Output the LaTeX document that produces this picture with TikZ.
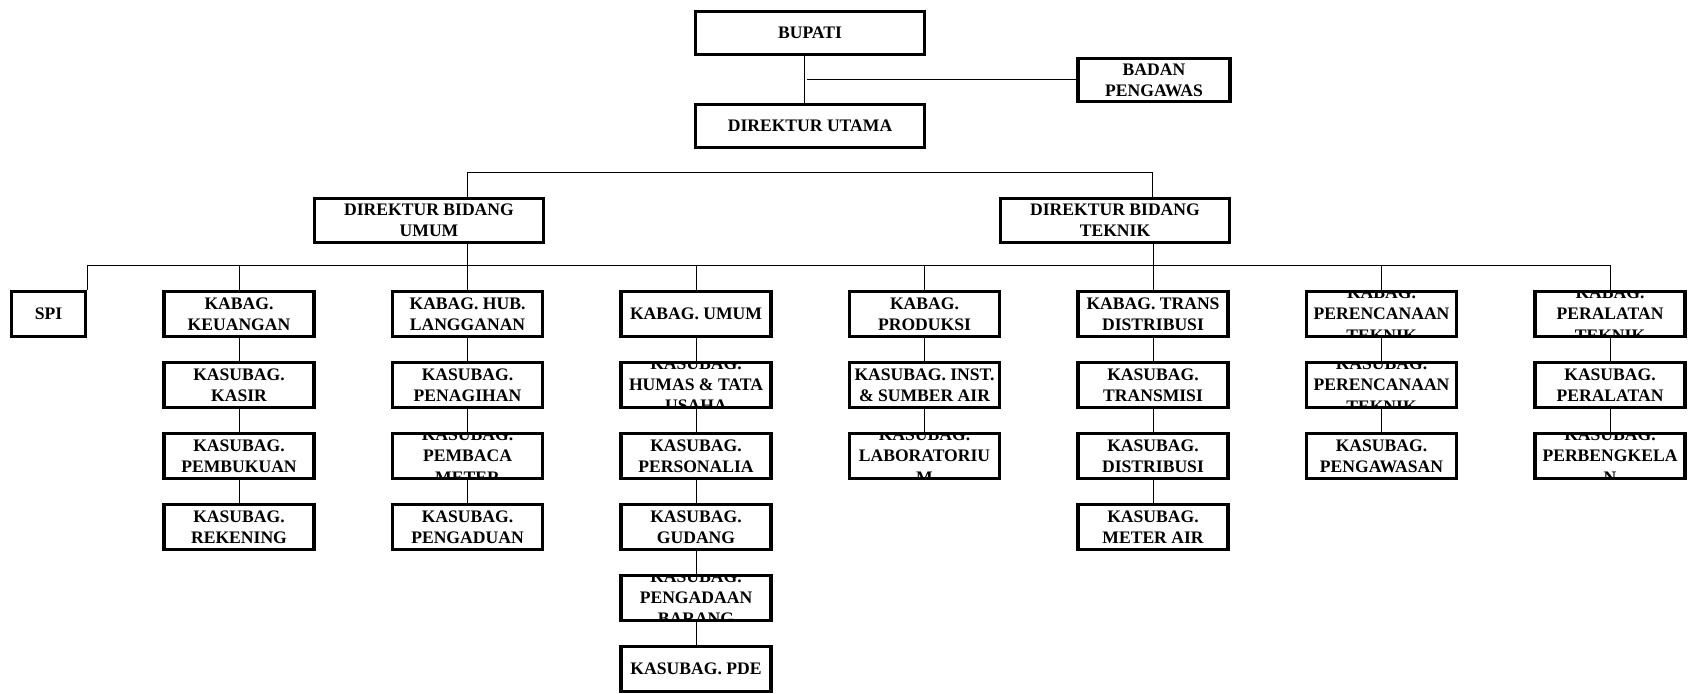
\documentclass[tikz,border=0pt]{standalone}
\usepackage{fontspec}
\setmainfont{Liberation Serif}
\tikzset{
  unit/.style={draw, fill=white, line width=1.6pt, minimum width=75pt, minimum height=22.5pt,
    inner sep=0pt, align=center, font=\bfseries\fontsize{8.8}{10.6}\selectfont},
  head/.style={unit, minimum width=114.5pt, minimum height=21.5pt},
  cut/.style={path picture={\node[align=center, font=\bfseries\fontsize{8.8}{10.6}\selectfont]
    at (path picture bounding box.center) {#1};}},
  link/.style={line width=0.5pt},
}
\begin{document}
\begin{tikzpicture}[x=0.5pt, y=-0.5pt]
\useasboundingbox (0,0) rectangle (1690,694);

\node[head] (bupati) at (810,33) {BUPATI};
\node[head] (dirut) at (810,126) {DIREKTUR UTAMA};
\node[unit, minimum width=76pt, minimum height=21.5pt] (badan) at (1154,80) {BADAN\\PENGAWAS};
\node[head, minimum height=22pt] (dbu) at (429,220.5) {DIREKTUR BIDANG\\UMUM};
\node[head, minimum height=22pt] (dbt) at (1115,220.5) {DIREKTUR BIDANG\\TEKNIK};

\node[unit, minimum width=37pt] (spi) at (48.5,314) {SPI};

\node[unit] (keu) at (239,314) {KABAG.\\KEUANGAN};
\node[unit] (kasir) at (239,385) {KASUBAG.\\KASIR};
\node[unit] (buku) at (239,456) {KASUBAG.\\PEMBUKUAN};
\node[unit] (rek) at (239,527) {KASUBAG.\\REKENING};

\node[unit] (hub) at (467.5,314) {KABAG. HUB.\\LANGGANAN};
\node[unit] (tagih) at (467.5,385) {KASUBAG.\\PENAGIHAN};
\node[unit, cut={KASUBAG.\\PEMBACA\\METER}] (baca) at (467.5,456) {};
\node[unit] (adu) at (467.5,527) {KASUBAG.\\PENGADUAN};

\node[unit] (umum) at (696,314) {KABAG. UMUM};
\node[unit, cut={KASUBAG.\\HUMAS \& TATA\\USAHA}] (humas) at (696,385) {};
\node[unit] (pers) at (696,456) {KASUBAG.\\PERSONALIA};
\node[unit] (gudang) at (696,527) {KASUBAG.\\GUDANG};
\node[unit, cut={KASUBAG.\\PENGADAAN\\BARANG}] (adaan) at (696,598) {};
\node[unit] (pde) at (696,669) {KASUBAG. PDE};

\node[unit] (prod) at (924.5,314) {KABAG.\\PRODUKSI};
\node[unit] (inst) at (924.5,385) {KASUBAG. INST.\\\& SUMBER AIR};
\node[unit, cut={KASUBAG.\\LABORATORIU\\M}] (lab) at (924.5,456) {};

\node[unit] (trans) at (1153,314) {KABAG. TRANS\\DISTRIBUSI};
\node[unit] (tmisi) at (1153,385) {KASUBAG.\\TRANSMISI};
\node[unit] (dist) at (1153,456) {KASUBAG.\\DISTRIBUSI};
\node[unit] (meter) at (1153,527) {KASUBAG.\\METER AIR};

\node[unit, cut={KABAG.\\PERENCANAAN\\TEKNIK}] (ren) at (1381.5,314) {};
\node[unit, cut={KASUBAG.\\PERENCANAAN\\TEKNIK}] (renk) at (1381.5,385) {};
\node[unit] (awas) at (1381.5,456) {KASUBAG.\\PENGAWASAN};

\node[unit, cut={KABAG.\\PERALATAN\\TEKNIK}] (alat) at (1610,314) {};
\node[unit] (alatk) at (1610,385) {KASUBAG.\\PERALATAN};
\node[unit, cut={KASUBAG.\\PERBENGKELA\\N}] (bengkel) at (1610,456) {};

\coordinate (tap) at (807,80);
\coordinate (ul) at (467,173);
\coordinate (ur) at (1152,173);
\coordinate (bus) at (86,266);

% top
\draw[link] ([xshift=-3pt]bupati.south) -- ([xshift=-3pt]dirut.north);
\draw[link] (tap) -- (badan.west);
\draw[link] (dbu.north -| ul) -- (ul) -- (ur) -- (dbt.north -| ur);
\draw[link] (dbu.south -| hub.north) -- (hub.north);
\draw[link] (dbt.south -| trans.north) -- (trans.north);

% bus
\draw[link] (spi.north east) |- (bus -| alat.north) -- (alat.north);
\draw[link] (keu.north |- bus) -- (keu.north);
\draw[link] (umum.north |- bus) -- (umum.north);
\draw[link] (prod.north |- bus) -- (prod.north);
\draw[link] (ren.north |- bus) -- (ren.north);

% columns
\draw[link] (keu) -- (kasir) (kasir) -- (buku) (buku) -- (rek);
\draw[link] (hub) -- (tagih) (tagih) -- (baca) (baca) -- (adu);
\draw[link] (umum) -- (humas) (humas) -- (pers) (pers) -- (gudang) (gudang) -- (adaan) (adaan) -- (pde);
\draw[link] (prod) -- (inst) (inst) -- (lab);
\draw[link] (trans) -- (tmisi) (tmisi) -- (dist) (dist) -- (meter);
\draw[link] (ren) -- (renk) (renk) -- (awas);
\draw[link] (alat) -- (alatk) (alatk) -- (bengkel);
\end{tikzpicture}
\end{document}
